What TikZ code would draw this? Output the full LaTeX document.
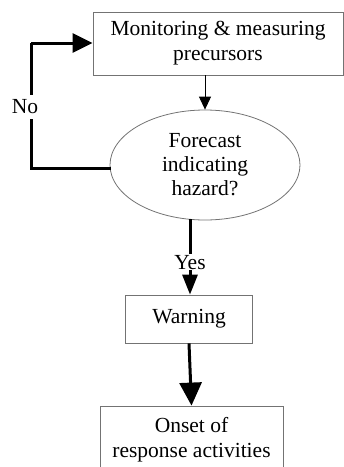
\documentclass[tikz,border=0pt]{standalone}
\usepackage{fontspec}
\setmainfont{Liberation Serif}
\usetikzlibrary{arrows.meta,shapes.geometric}
\begin{document}
\begin{tikzpicture}[x=1pt,y=-1pt,
  box/.style={draw=black!55,line width=0.8pt,rectangle,align=center,inner sep=0pt,font=\fontsize{21.5}{25}\selectfont},
  dec/.style={draw=black!55,line width=0.8pt,ellipse,align=center,inner sep=0pt,font=\fontsize{21.5}{24}\selectfont},
  lbl/.style={fill=white,inner sep=1pt,font=\fontsize{21.5}{24}\selectfont},
  thin/.style={line width=0.9pt,-{Triangle[length=13pt,width=12pt]}},
  thick/.style={line width=3pt}]
\useasboundingbox (0,0) rectangle (344,467);
\node[box,minimum width=250,minimum height=63] (mon) at (218,43.5) {Monitoring \& measuring\\precursors};
\node[dec,minimum width=190,minimum height=110] (fc) at (205,165) {Forecast\\indicating\\hazard?};
\node[box,minimum width=127,minimum height=48] (warn) at (189,319) {Warning};
\node[box,minimum width=183,minimum height=68] (ons) at (191.5,440) {Onset of\\response activities};
\coordinate (a) at (205,75);
\coordinate (lb) at (31,168);
\coordinate (lt) at (31,43);
\coordinate (fb) at (190,219);
\coordinate (le) at (111,168);
\coordinate (nopos) at (25,107);
\draw[thick] (le) -- (lb) -- (lt);
\node[lbl,inner ysep=5pt] (no) at (nopos) {No};
\draw[thin] (a) -- (a |- fc.north);
\draw[thick,-{Triangle[length=20pt,width=19pt]}] (lt) -- (mon.west |- lt);
\draw[thick,-{Triangle[length=20pt,width=15pt]}] (fb) -- node[lbl,pos=0.57]{Yes} (fb |- warn.north);
\draw[thick,-{Triangle[length=23pt,width=22pt]}] (warn.south) -- (ons.north);
\end{tikzpicture}
\end{document}
